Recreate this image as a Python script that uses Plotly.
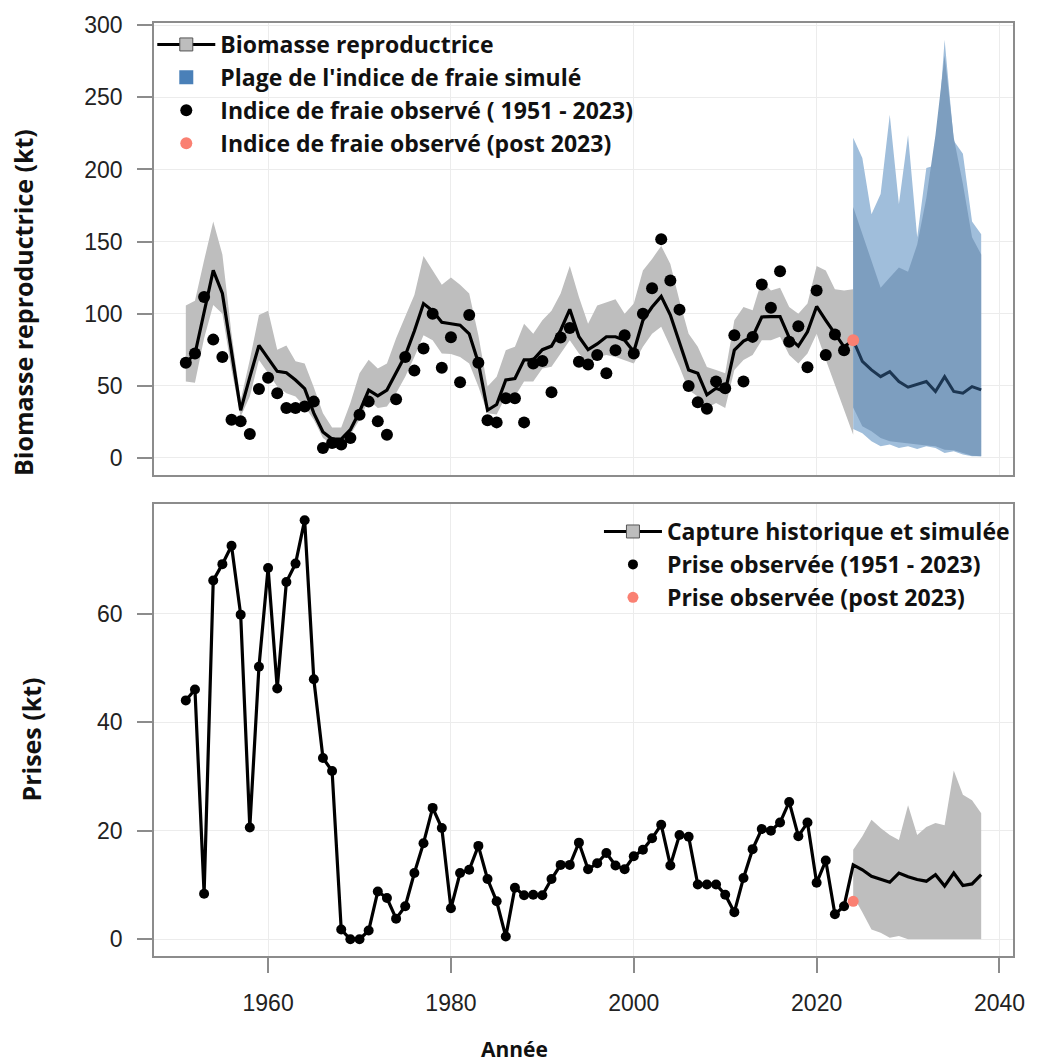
import plotly.graph_objects as go

# ---------------- data ----------------
years_hist = list(range(1951, 2024))          # observed period
years_band = list(range(1951, 2025))          # historical uncertainty band
years_proj = list(range(2024, 2039))          # projection period

# spawning stock biomass (kt), median estimate 1951-2023
ssb_median = [66, 72, 101, 130, 114, 73, 33, 56, 78, 69,
              60, 59, 54, 48, 31, 18, 13, 13, 19.5, 32,
              47, 43, 47, 59, 71, 88, 107, 102, 94, 93,
              92, 86, 66, 33, 37, 54, 55, 68, 68, 75,
              77.5, 88.5, 103, 84, 75, 79, 84, 84, 81.6, 73.6,
              95.4, 104.6, 112, 99, 80.5, 61, 58.6, 43.7, 48.3, 46,
              74.7, 81, 84, 97.7, 98, 98, 83.4, 77.5, 87.4, 105,
              95.4, 86.2, 77]
ssb_upper = [105.7, 109, 137, 164, 141, 86, 40, 68, 99, 102,
             75, 78, 67, 65.5, 49, 31, 21, 21, 38, 58.6,
             68, 62, 65.5, 83, 98, 113, 140, 130, 120, 125,
             120, 114, 85, 49.4, 56.3, 74.7, 77, 93, 86, 95.4,
             102, 114, 133, 111.5, 93, 105.7, 108, 110, 100, 107,
             130, 138, 147, 134.5, 109, 86, 77, 63, 61, 58.6,
             95.4, 104.6, 102.3, 123, 116, 118, 104.6, 100, 107, 133,
             130, 117, 116, 117]
ssb_lower = [53, 52, 83, 106, 100, 61, 28.7, 42.5, 67.8, 58.6,
             49.4, 44.8, 42.5, 35.6, 26.4, 13.8, 9.2, 10.3, 16, 26.4,
             40.2, 34.5, 35.6, 44.8, 56.3, 70, 85, 81.6, 72.4, 72,
             70, 65.5, 49.4, 31, 30, 42.5, 42.5, 52.9, 52.9, 62,
             63.2, 72.4, 81.6, 72.4, 65.5, 70, 71.3, 70, 67.8, 65.5,
             77, 86, 91, 77, 63, 47, 42.5, 34.5, 38, 34.5,
             61, 67.8, 71.3, 81.6, 81.6, 84, 71.3, 65.5, 72.4, 86,
             68, 50, 33, 16]

# observed spawning index (kt)
spawn_index_obs = [66, 72.4, 111.5, 82, 70, 26.4, 25.3, 16.6, 47.8, 55.6,
                   44.8, 34.5, 34.5, 35.6, 39, 6.9, 10.3, 9.2, 13.8, 29.9,
                   39, 25.3, 16, 40.7, 70, 60.5, 75.9, 100, 62.5, 83.7,
                   52.5, 99, 66, 26, 24.6, 41.4, 41.4, 24.6, 65.5, 67.1,
                   45.5, 83.4, 90.1, 66.7, 64.8, 71.3, 58.6, 74.7, 85, 72.4,
                   100, 117.7, 151.7, 123, 102.8, 49.9, 38.6, 34, 52.9, 48.3,
                   85, 52.9, 83.9, 120.2, 104.1, 129.4, 80.5, 91.2, 62.8, 116.1,
                   71.3, 85.5, 74.7]
years_post = [2024]
spawn_index_post = [81.6]

# projected biomass (median) and simulated spawning index ranges
ssb_proj = [81.6, 67, 61, 56.3, 59.8, 52.9, 49, 51.2, 52.9, 46, 56.3, 46, 44.8, 49.4, 47.1]
sim_outer_hi = [222, 208, 169, 183, 238, 176, 224, 153, 201, 203, 290, 220, 211, 164, 155]
sim_outer_lo = [20, 17, 11.5, 8, 9.2, 6.9, 8, 6.2, 8, 6.9, 3.4, 4.6, 2.3, 1.1, 1.1]
sim_inner_hi = [174, 155, 137, 118, 125, 132, 129, 148, 180, 224, 279, 222, 190, 153, 141]
sim_inner_lo = [35, 22, 18.4, 13.8, 11.5, 10.8, 10, 9.2, 8.5, 8, 5.7, 5.3, 3.4, 1.5, 1.1]

# catches (kt)
catch_obs = [44, 46, 8.4, 66.1, 69.1, 72.5, 59.8, 20.6, 50.2, 68.4,
             46.2, 65.8, 69.2, 77.2, 47.9, 33.4, 31, 1.8, 0, 0,
             1.6, 8.8, 7.6, 3.8, 6.1, 12.2, 17.7, 24.2, 20.5, 5.7,
             12.2, 12.8, 17.2, 11.1, 7, 0.5, 9.5, 8.1, 8.2, 8.1,
             11.1, 13.7, 13.7, 17.8, 12.9, 14, 15.9, 13.6, 12.9, 15.3,
             16.5, 18.6, 21.1, 13.6, 19.2, 18.9, 10.1, 10.1, 10.1, 8.2,
             5, 11.3, 16.6, 20.3, 20, 21.5, 25.3, 19, 21.5, 10.4,
             14.5, 4.6, 6.1]
catch_post = [7.0]
catch_proj = [13.7, 12.8, 11.6, 11, 10.5, 12.2, 11.5, 11, 10.7, 11.9, 9.8, 12.2, 9.9, 10.2, 11.9]
catch_proj_hi = [16.5, 19, 22, 20.5, 19.2, 18.3, 24.7, 19.2, 20.7, 21.4, 21, 31.1, 26.6, 25.6, 23.2]
catch_proj_lo = [8, 5, 1.8, 1.2, 0.3, 0.6, 0, 0, 0, 0, 0, 0, 0, 0, 0]

x_ticks = [1960, 1980, 2000, 2020, 2040]
ssb_ticks = [0, 50, 100, 150, 200, 250, 300]
catch_ticks = [0, 20, 40, 60]

# ---------------- styling ----------------
GRAY_BAND = "#bebebe"
BLUE_OUTER = "#a0bedb"
BLUE_INNER = "#7d9ebf"
NAVY = "#1c3652"
SALMON = "#fa8072"
TXT_FAMILY = "Open Sans"
LEG_FONT = dict(family=TXT_FAMILY, size=23, color="#111")


def band(xs, lo, hi):
    return xs + xs[::-1], hi + lo[::-1]


fig = go.Figure()

# ---- top panel: spawning biomass ----
bx, by = band(years_band, ssb_lower, ssb_upper)
fig.add_trace(go.Scatter(x=bx, y=by, fill="toself", fillcolor=GRAY_BAND, line=dict(width=0),
                         mode="lines", hoverinfo="skip", showlegend=False, xaxis="x", yaxis="y"))
ox, oy = band(years_proj, sim_outer_lo, sim_outer_hi)
fig.add_trace(go.Scatter(x=ox, y=oy, fill="toself", fillcolor=BLUE_OUTER, line=dict(width=0),
                         mode="lines", hoverinfo="skip", showlegend=False, xaxis="x", yaxis="y"))
ix, iy = band(years_proj, sim_inner_lo, sim_inner_hi)
fig.add_trace(go.Scatter(x=ix, y=iy, fill="toself", fillcolor=BLUE_INNER, line=dict(width=0),
                         mode="lines", hoverinfo="skip", showlegend=False, xaxis="x", yaxis="y"))
fig.add_trace(go.Scatter(x=years_hist + years_proj[:1], y=ssb_median + ssb_proj[:1], mode="lines",
                         line=dict(color="black", width=3.2), showlegend=False, xaxis="x", yaxis="y"))
fig.add_trace(go.Scatter(x=years_proj, y=ssb_proj, mode="lines",
                         line=dict(color=NAVY, width=3), showlegend=False, xaxis="x", yaxis="y"))

# legend keys for the top panel
fig.add_trace(go.Scatter(x=[None], y=[None], mode="lines+markers", name="<b>Biomasse reproductrice</b>",
                         line=dict(color="black", width=3),
                         marker=dict(symbol="square", size=13, color="#bdbdbd", line=dict(color="#555", width=1)),
                         legend="legend", legendrank=1, legendgroup="a", xaxis="x", yaxis="y"))
fig.add_trace(go.Scatter(x=[None], y=[None], mode="markers", name="<b>Plage de l'indice de fraie simulé</b>",
                         marker=dict(symbol="square", size=14, color="#4a80b8"),
                         legend="legend", legendrank=2, legendgroup="b", xaxis="x", yaxis="y"))
fig.add_trace(go.Scatter(x=years_hist, y=spawn_index_obs, mode="markers",
                         name="<b>Indice de fraie observé ( 1951 - 2023)</b>",
                         marker=dict(color="black", size=12),
                         legend="legend", legendrank=3, legendgroup="c", xaxis="x", yaxis="y"))
fig.add_trace(go.Scatter(x=years_post, y=spawn_index_post, mode="markers",
                         name="<b>Indice de fraie observé (post 2023)</b>",
                         marker=dict(color=SALMON, size=12),
                         legend="legend", legendrank=4, legendgroup="d", xaxis="x", yaxis="y"))

# ---- bottom panel: catches ----
cx, cy = band(years_proj, catch_proj_lo, catch_proj_hi)
fig.add_trace(go.Scatter(x=cx, y=cy, fill="toself", fillcolor=GRAY_BAND, line=dict(width=0),
                         mode="lines", hoverinfo="skip", showlegend=False, xaxis="x2", yaxis="y2"))
fig.add_trace(go.Scatter(x=years_hist + years_proj, y=catch_obs + catch_proj, mode="lines",
                         line=dict(color="black", width=3.2), showlegend=False, xaxis="x2", yaxis="y2"))
fig.add_trace(go.Scatter(x=[None], y=[None], mode="lines+markers", name="<b>Capture historique et simulée</b>",
                         line=dict(color="black", width=3),
                         marker=dict(symbol="square", size=13, color="#bdbdbd", line=dict(color="#555", width=1)),
                         legend="legend2", legendrank=1, legendgroup="e", xaxis="x2", yaxis="y2"))
fig.add_trace(go.Scatter(x=years_hist, y=catch_obs, mode="markers", name="<b>Prise observée (1951 - 2023)</b>",
                         marker=dict(color="black", size=10),
                         legend="legend2", legendrank=2, legendgroup="f", xaxis="x2", yaxis="y2"))
fig.add_trace(go.Scatter(x=years_post, y=catch_post, mode="markers", name="<b>Prise observée (post 2023)</b>",
                         marker=dict(color=SALMON, size=11),
                         legend="legend2", legendrank=3, legendgroup="g", xaxis="x2", yaxis="y2"))

axis_common = dict(showgrid=True, gridcolor="#ececec", gridwidth=1, zeroline=False,
                   showline=True, linecolor="#8c8c8c", linewidth=1.5, mirror=True,
                   tickfont=dict(family="Liberation Sans", size=23, color="#222"))
x_range = [1947.52, 2041.48]

fig.update_layout(
    width=1037, height=1063,
    margin=dict(l=154, r=17, t=17, b=107),
    paper_bgcolor="white", plot_bgcolor="white",
    xaxis=dict(axis_common, domain=[0, 1], range=x_range, anchor="y",
               tickvals=x_ticks, showticklabels=False, ticks=""),
    yaxis=dict(axis_common, domain=[0.516, 1], range=[-11.6, 301.6], anchor="x",
               tickvals=ssb_ticks, ticks="outside", ticklen=15, tickcolor="#8c8c8c", tickwidth=1.5,
               ticklabelstandoff=10),
    xaxis2=dict(axis_common, domain=[0, 1], range=x_range, anchor="y2",
                tickvals=x_ticks, ticks="outside", ticklen=15, tickcolor="#8c8c8c", tickwidth=1.5,
                ticklabelstandoff=11),
    yaxis2=dict(axis_common, domain=[0, 0.484], range=[-3.08, 80.1], anchor="x2",
                tickvals=catch_ticks, ticks="outside", ticklen=15, tickcolor="#8c8c8c", tickwidth=1.5,
                ticklabelstandoff=10),
    legend=dict(x=-0.002, y=1.0, xanchor="left", yanchor="top", bgcolor="rgba(0,0,0,0)",
                font=LEG_FONT, traceorder="grouped", tracegroupgap=0, itemsizing="trace",
                itemwidth=58),
    legend2=dict(x=0.518, y=0.478, xanchor="left", yanchor="top", bgcolor="rgba(0,0,0,0)",
                 font=LEG_FONT, traceorder="grouped", tracegroupgap=0, itemsizing="trace",
                 itemwidth=58),
    showlegend=True,
    annotations=[
        dict(text="<b>Biomasse reproductrice (kt)</b>", xref="paper", yref="paper",
             x=-0.1524, y=0.700, textangle=-90, showarrow=False,
             font=dict(family=TXT_FAMILY, size=25, color="#111"), xanchor="center", yanchor="middle"),
        dict(text="<b>Prises (kt)</b>", xref="paper", yref="paper",
             x=-0.1432, y=0.232, textangle=-90, showarrow=False,
             font=dict(family=TXT_FAMILY, size=25, color="#111"), xanchor="center", yanchor="middle"),
        dict(text="<b>Année</b>", xref="paper", yref="paper",
             x=0.420, y=-0.100, showarrow=False,
             font=dict(family=TXT_FAMILY, size=21, color="#111"), xanchor="center", yanchor="middle"),
    ],
)

fig.write_html("out.html")
